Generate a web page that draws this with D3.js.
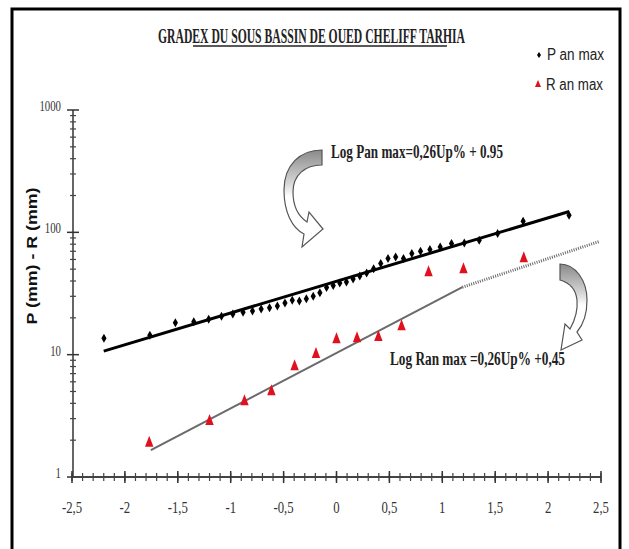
<!DOCTYPE html>
<html><head><meta charset="utf-8">
<script src="https://cdn.jsdelivr.net/npm/d3@7"></script>
<style>body{margin:0;background:#fff}</style>
</head><body>
<svg id="c" width="629" height="549"></svg>
<script>
// ---- data ----
const pUp = [-2.198,-1.764,-1.523,-1.349,-1.208,-1.087,-0.980,-0.883,-0.794,-0.712,-0.633,-0.559,-0.487,-0.418,-0.351,-0.285,-0.220,-0.157,-0.094,-0.031,
             0.031,0.094,0.157,0.220,0.285,0.351,0.418,0.487,0.559,0.633,0.712,0.794,0.883,0.980,1.087,1.208,1.349,1.523,1.764,2.198];
const pMax = [13.6,14.4,18.2,18.6,19.5,20.6,21.5,22.2,22.8,23.6,24.2,25.0,26.4,27.9,27.5,28.6,30.0,32.0,35.4,36.8,
              38.5,39.3,41.5,44.0,46.5,50.5,55.6,61.0,62.9,61.0,67.0,70.0,72.3,76.0,80.9,81.8,86.1,97.6,123,137.7];
const rUp = [-1.77,-1.20,-0.87,-0.615,-0.396,-0.194,0,0.194,0.396,0.615,0.87,1.20,1.77];
const rMax = [1.94,2.92,4.25,5.13,8.2,10.3,13.6,13.9,14.2,17.4,48.0,50.9,62.5];
const pFitUp = [-2.2, 2.2];
const pFitVal = [10.7, 148];
const rFitUp = [-1.755, 1.19, 2.48];
const rFitVal = [1.66, 35.6, 84];
const xTicks = [-2.5,-2,-1.5,-1,-0.5,0,0.5,1,1.5,2,2.5];
const xTickLabels = ["-2,5","-2","-1,5","-1","-0,5","0","0,5","1","1,5","2","2,5"];
const yTicks = [1,10,100,1000];
const yTickLabels = ["1","10","100","1000"];
const seriesNames = ["P an max","R an max"];
const title = "GRADEX DU SOUS BASSIN DE OUED CHELIFF TARHIA";
const eqP = "Log Pan max=0,26Up% + 0.95";
const eqR = "Log Ran max =0,26Up% +0,45";
const yTitle = "P (mm) - R (mm)";

// ---- drawing ----
const svg = d3.select("#c");
const x = d3.scaleLinear().domain([-2.5, 2.5]).range([72, 601]);
const y = d3.scaleLog().domain([1, 1000]).range([477, 110]);
const serif = "'Liberation Serif','Times New Roman',serif";
const sans = "'Liberation Sans',Arial,sans-serif";

const defs = svg.append("defs");
const g1 = defs.append("linearGradient").attr("id","gA").attr("x1",0).attr("y1",0).attr("x2",0).attr("y2",1);
g1.append("stop").attr("offset","0%").attr("stop-color","#8a8a8a");
g1.append("stop").attr("offset","35%").attr("stop-color","#d8d8d8");
g1.append("stop").attr("offset","48%").attr("stop-color","#ffffff");
g1.append("stop").attr("offset","100%").attr("stop-color","#ffffff");

// frame
svg.append("rect").attr("x",12).attr("y",9).attr("width",608).attr("height",560)
  .attr("fill","none").attr("stroke","#000").attr("stroke-width",3);

// title
svg.append("text").attr("transform","translate(158,43) scale(1,1.4)").attr("font-family",serif).attr("font-weight","bold")
  .attr("font-size",14.5).attr("textLength",307).attr("lengthAdjust","spacingAndGlyphs").attr("fill","#222").text(title);
svg.append("line").attr("x1",193).attr("x2",447).attr("y1",46).attr("y2",46).attr("stroke","#222").attr("stroke-width",1.5);

// y axis
svg.append("line").attr("x1",x(-2.5)+1).attr("x2",x(-2.5)+1).attr("y1",y(1)).attr("y2",y(1000)).attr("stroke","#333").attr("stroke-width",1.5);
const yMinor = [];
[1,10,100].forEach(d => { for (let k=2;k<=9;k++) yMinor.push(k*d); });
svg.selectAll(".ymin").data(yMinor).enter().append("line")
  .attr("x1",x(-2.5)-2).attr("x2",x(-2.5)+4).attr("y1",d=>y(d)).attr("y2",d=>y(d)).attr("stroke","#444").attr("stroke-width",1.2);
svg.selectAll(".ymaj").data(yTicks).enter().append("line")
  .attr("x1",x(-2.5)-5).attr("x2",x(-2.5)+7).attr("y1",d=>y(d)).attr("y2",d=>y(d)).attr("stroke","#333").attr("stroke-width",1.5);
svg.selectAll(".ylab").data(yTicks).enter().append("text")
  .attr("transform",d=>`translate(61,${y(d)+1}) scale(0.72,1)`)
  .attr("text-anchor","end").attr("font-family",serif).attr("font-size",15).attr("fill","#333")
  .text((d,i)=>yTickLabels[i]);

// x axis
svg.append("line").attr("x1",x(-2.5)).attr("x2",x(2.5)).attr("y1",y(1)).attr("y2",y(1)).attr("stroke","#444").attr("stroke-width",2);
const xMinor = d3.range(-25, 26).map(v => v/10);
svg.selectAll(".xmin").data(xMinor).enter().append("line")
  .attr("x1",d=>x(d)).attr("x2",d=>x(d)).attr("y1",y(1)-4).attr("y2",y(1)+4).attr("stroke","#444").attr("stroke-width",1.2);
svg.selectAll(".xmaj").data(xTicks).enter().append("line")
  .attr("x1",d=>x(d)).attr("x2",d=>x(d)).attr("y1",y(1)-6).attr("y2",y(1)+6).attr("stroke","#333").attr("stroke-width",1.5);
svg.selectAll(".xlab").data(xTicks).enter().append("text")
  .attr("transform",d=>`translate(${x(d)},513) scale(0.75,1)`)
  .attr("text-anchor","middle").attr("font-family",serif).attr("font-size",17).attr("fill","#333")
  .text((d,i)=>xTickLabels[i]);

// y title
svg.append("text").attr("transform","translate(37,256) rotate(-90)").attr("text-anchor","middle")
  .attr("font-family",sans).attr("font-weight","bold").attr("font-size",14).attr("fill","#111")
  .attr("textLength",137).attr("lengthAdjust","spacingAndGlyphs").text(yTitle);

// fit lines
const line = d3.line().x(d=>x(d[0])).y(d=>y(d[1]));
const pFit = pFitUp.map((u,i)=>[u,pFitVal[i]]);
const rFit = rFitUp.map((u,i)=>[u,rFitVal[i]]);
svg.append("path").attr("d",line(rFit.slice(0,2))).attr("fill","none").attr("stroke","#6a6a6a").attr("stroke-width",2);
svg.append("path").attr("d",line(rFit.slice(1))).attr("fill","none").attr("stroke","#6a6a6a").attr("stroke-width",3).attr("stroke-dasharray","1,1.3");
svg.append("path").attr("d",line(pFit)).attr("fill","none").attr("stroke","#000").attr("stroke-width",3);

// points
const diamond = "M0,-4.5L2.6,0L0,4.5L-2.6,0Z";
const tri = "M0,-6L4.2,5L-4.2,5Z";
svg.selectAll(".pp").data(pUp).enter().append("path")
  .attr("d",diamond).attr("transform",(d,i)=>`translate(${x(d)},${y(pMax[i])})`).attr("fill","#000");
svg.selectAll(".rp").data(rUp).enter().append("path")
  .attr("d",tri).attr("transform",(d,i)=>`translate(${x(d)},${y(rMax[i])})`).attr("fill","#e0101e");

// arrows
svg.append("path").attr("d","M322,150 C300,150 284,165 284,190 C284,212 292,228 304,234 L302,247 L323,229 L309,212 L307,222 C298,216 293,205 293,192 C293,175 305,165 322,165 Z")
  .attr("fill","url(#gA)").attr("stroke","#555").attr("stroke-width",1.2);
svg.append("path").attr("d","M560,264 C575,264 587,280 587,300 C587,315 583,325 577,332 L582,340 L561,350 L565,324 L570,329 C575,320 578,310 577,300 C576,290 570,283 560,280 Z")
  .attr("fill","url(#gA)").attr("stroke","#555").attr("stroke-width",1.2);

// equations
svg.append("text").attr("x",331).attr("y",158).attr("font-family",serif).attr("font-weight","bold")
  .attr("font-size",19).attr("textLength",172).attr("lengthAdjust","spacingAndGlyphs").attr("fill","#222").text(eqP);
svg.append("text").attr("x",390).attr("y",365).attr("font-family",serif).attr("font-weight","bold")
  .attr("font-size",18).attr("textLength",175).attr("lengthAdjust","spacingAndGlyphs").attr("fill","#222").text(eqR);

// legend
svg.append("path").attr("d","M0,-3L2,0L0,3L-2,0Z").attr("transform","translate(539,55)").attr("fill","#000");
svg.append("text").attr("x",547).attr("y",60).attr("font-family",sans).attr("font-size",16)
  .attr("textLength",57).attr("lengthAdjust","spacingAndGlyphs").attr("fill","#222").text(seriesNames[0]);
svg.append("path").attr("d","M0,-4L3,3L-3,3Z").attr("transform","translate(538,84)").attr("fill","#e0101e");
svg.append("text").attr("x",546).attr("y",90).attr("font-family",sans).attr("font-size",16)
  .attr("textLength",57).attr("lengthAdjust","spacingAndGlyphs").attr("fill","#222").text(seriesNames[1]);
</script>
</body></html>
